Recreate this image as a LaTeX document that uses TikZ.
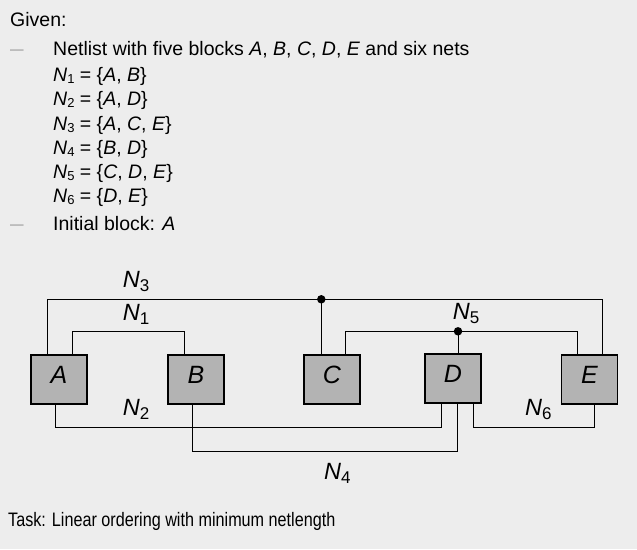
\documentclass[tikz,border=0pt]{standalone}
\usepackage{fontspec}
\setmainfont{Liberation Sans}
\definecolor{bg}{HTML}{EDEDED}
\definecolor{blockgray}{HTML}{B3B3B3}
\definecolor{dashgray}{HTML}{A8A8A8}
\newcommand{\lsub}[1]{\raisebox{-2pt}{\fontsize{13}{13}\selectfont #1}}
\newcommand{\nsub}[1]{\raisebox{-4.5pt}{\fontsize{17}{17}\selectfont #1}}
\begin{document}
\begin{tikzpicture}[x=1pt,y=-1pt,
  block/.style={draw=black,line width=1.6pt,fill=blockgray,minimum width=56pt,minimum height=49pt,inner sep=0pt,text depth=10pt,font=\fontsize{25}{25}\selectfont\itshape},
  net/.style={line width=0.9pt,draw=black},
  dot/.style={circle,fill=black,inner sep=0pt,minimum size=8.5pt},
  txt/.style={anchor=base west,inner sep=0pt,font=\fontsize{19.5}{22}\selectfont},
  dsh/.style={anchor=base west,inner sep=0pt,text=dashgray,font=\fontsize{19.5}{22}\selectfont},
  lbl/.style={anchor=base west,inner sep=0pt,font=\fontsize{23.5}{23.5}\selectfont}]
\useasboundingbox[fill=bg] (0,0) rectangle (637,549);

% text
\node[txt] (given) at (10,26) {Given:};
\node[dsh] (d1) at (10,55) {\scalebox{1.25}[1]{–}};
\node[txt] (t1) at (53,55) {Netlist with five blocks \textit{A}, \textit{B}, \textit{C}, \textit{D}, \textit{E} and six nets};
\node[txt] (t2) at (53,81) {\textit{N}\lsub{1} = \{\textit{A}, \textit{B}\}};
\node[txt] (t3) at (53,105) {\textit{N}\lsub{2} = \{\textit{A}, \textit{D}\}};
\node[txt] (t4) at (53,130) {\textit{N}\lsub{3} = \{\textit{A}, \textit{C}, \textit{E}\}};
\node[txt] (t5) at (53,154) {\textit{N}\lsub{4} = \{\textit{B}, \textit{D}\}};
\node[txt] (t6) at (53,178) {\textit{N}\lsub{5} = \{\textit{C}, \textit{D}, \textit{E}\}};
\node[txt] (t7) at (53,202) {\textit{N}\lsub{6} = \{\textit{D}, \textit{E}\}};
\node[dsh] (d2) at (10,230) {\scalebox{1.25}[1]{–}};
\node[txt] (t8) at (53,230) {Initial block: \textit{A}};
\node[txt] (task) at (8,526) {\scalebox{0.83}[1]{Task: Linear ordering with minimum netlength}};

% blocks
\node[block] (A) at (59,379.5) {A\hspace{6pt}};
\node[block] (B) at (196,379.5) {B\hspace{4pt}};
\node[block] (C) at (332,379.5) {C\hspace{4pt}};
\node[block] (D) at (453,378.5) {D\hspace{4pt}};
\node[block] (E) at (589.5,379.5) {E\hspace{4pt}};

% pins
\coordinate (a3) at ([xshift=-11.3pt]A.north);
\coordinate (a1) at ([xshift=13.3pt]A.north);
\coordinate (a2) at ([xshift=-3.7pt]A.south);
\coordinate (b1) at ([xshift=-11.7pt]B.north);
\coordinate (b4) at ([xshift=-3.3pt]B.south);
\coordinate (c3) at ([xshift=-10.7pt]C.north);
\coordinate (c5) at ([xshift=13.7pt]C.north);
\coordinate (d5) at ([xshift=5pt]D.north);
\coordinate (d2) at ([xshift=-11.3pt]D.south);
\coordinate (d4) at ([xshift=4.3pt]D.south);
\coordinate (d6) at ([xshift=20.3pt]D.south);
\coordinate (e5) at ([xshift=-12.2pt]E.north);
\coordinate (e3) at ([xshift=12.8pt]E.north);
\coordinate (e6) at ([xshift=4.8pt]E.south);

% junctions
\node[dot] (j3) at (321.3,299.3) {};
\node[dot] (j5) at (458,331.3) {};

% nets
\draw[net] (a3) |- (j3.center) -| (e3);
\draw[net] (j3.center) -- (c3);
\draw[net] (a1) -- (a1 |- 0,331.3) -| (b1);
\draw[net] (c5) |- (j5.center) -| (e5);
\draw[net] (j5.center) -- (d5);
\draw[net] (a2) -- (a2 |- 0,427.3) -| (d2);
\draw[net] (b4) -- (b4 |- 0,451.3) -| (d4);
\draw[net] (d6) -- (d6 |- 0,427.3) -| (e6);

% net labels
\node[lbl] (l3) at (122.7,287.3) {\textit{N}\nsub{3}};
\node[lbl] (l1) at (122.7,320) {\textit{N}\nsub{1}};
\node[lbl] (l2) at (122.7,415.3) {\textit{N}\nsub{2}};
\node[lbl] (l5) at (452.7,319.3) {\textit{N}\nsub{5}};
\node[lbl] (l6) at (525,415.3) {\textit{N}\nsub{6}};
\node[lbl] (l4) at (324,479.3) {\textit{N}\nsub{4}};
\end{tikzpicture}
\end{document}
